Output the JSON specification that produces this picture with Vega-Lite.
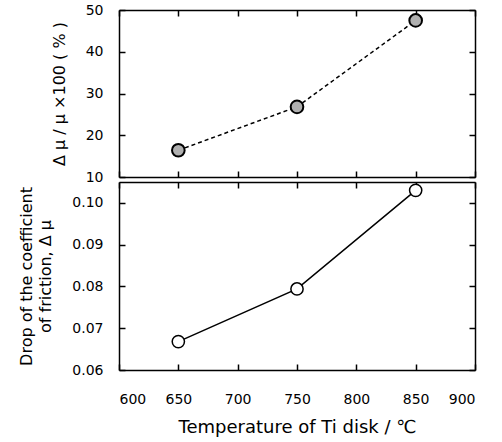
{
  "$schema": "https://vega.github.io/schema/vega-lite/v6.json",
  "padding": {"left": 18, "top": 3, "right": 10, "bottom": 5},
  "background": "white",
  "bounds": "flush",
  "config": {
    "font": "DejaVu Sans",
    "view": {"stroke": null},
    "axis": {
      "domain": true, "domainColor": "black", "domainWidth": 1.5,
      "ticks": true, "tickColor": "black", "tickWidth": 1.5, "tickSize": -6,
      "grid": false,
      "labelFont": "DejaVu Sans", "labelFontSize": 14, "labelColor": "black",
      "titleFont": "DejaVu Sans", "titleColor": "black", "titleFontWeight": "normal"
    }
  },
  "datasets": {
    "pts": [
      {"T": 650, "pct": 16.4, "dmu": 0.0668},
      {"T": 750, "pct": 26.8, "dmu": 0.0794},
      {"T": 850, "pct": 47.5, "dmu": 0.1030}
    ]
  },
  "data": {"name": "pts"},
  "vconcat": [
    {
      "width": 356, "height": 167,
      "layer": [
        {
          "mark": {"type": "line", "color": "black", "strokeWidth": 1.5, "strokeDash": [4, 3]},
          "encoding": {
            "x": {"field": "T", "type": "quantitative", "scale": {"domain": [600, 900], "nice": false},
                  "axis": {"orient": "bottom", "labels": false, "title": null, "minExtent": 0, "maxExtent": 0, "values": [600, 650, 700, 750, 800, 850, 900]}},
            "y": {"field": "pct", "type": "quantitative", "scale": {"domain": [10, 50], "nice": false, "zero": false},
                  "axis": {"orient": "left", "values": [10, 20, 30, 40, 50], "labelPadding": 22, "title": "Δ μ / μ ×100 ( % )", "titleFontSize": 16, "titlePadding": 18}}
          }
        },
        {
          "mark": {"type": "point", "filled": true, "fill": "#b0b0b0", "stroke": "black", "strokeWidth": 2, "size": 160, "opacity": 1},
          "encoding": {
            "x": {"field": "T", "type": "quantitative", "scale": {"domain": [600, 900], "nice": false},
                  "axis": {"orient": "top", "labels": false, "title": null, "minExtent": 0, "maxExtent": 0, "values": [600, 650, 700, 750, 800, 850, 900]}},
            "y": {"field": "pct", "type": "quantitative", "scale": {"domain": [10, 50], "nice": false, "zero": false},
                  "axis": {"orient": "right", "labels": false, "title": null, "minExtent": 0, "maxExtent": 0, "values": [10, 20, 30, 40, 50]}}
          }
        }
      ],
      "resolve": {"axis": {"x": "independent", "y": "independent"}}
    },
    {
      "width": 356, "height": 188,
      "layer": [
        {
          "mark": {"type": "line", "color": "black", "strokeWidth": 1.5},
          "encoding": {
            "x": {"field": "T", "type": "quantitative", "scale": {"domain": [600, 900], "nice": false},
                  "axis": {"orient": "bottom", "values": [600, 650, 700, 750, 800, 850, 900], "labelPadding": 28,
                           "title": "Temperature of Ti disk / ℃", "titleFontSize": 18, "titlePadding": 12}},
            "y": {"field": "dmu", "type": "quantitative", "scale": {"domain": [0.06, 0.105], "nice": false, "zero": false},
                  "axis": {"orient": "left", "values": [0.06, 0.07, 0.08, 0.09, 0.10], "format": ".2f", "labelPadding": 22,
                           "title": ["Drop of the coefficient", "of friction, Δ μ"], "titleFontSize": 16, "titleLineHeight": 19, "titlePadding": 18}}
          }
        },
        {
          "mark": {"type": "point", "filled": true, "fill": "white", "stroke": "black", "strokeWidth": 1.5, "size": 150, "opacity": 1},
          "encoding": {
            "x": {"field": "T", "type": "quantitative", "scale": {"domain": [600, 900], "nice": false},
                  "axis": {"orient": "top", "labels": false, "title": null, "minExtent": 0, "maxExtent": 0, "values": [600, 650, 700, 750, 800, 850, 900]}},
            "y": {"field": "dmu", "type": "quantitative", "scale": {"domain": [0.06, 0.105], "nice": false, "zero": false},
                  "axis": {"orient": "right", "labels": false, "title": null, "minExtent": 0, "maxExtent": 0, "values": [0.06, 0.07, 0.08, 0.09, 0.10]}}
          }
        }
      ],
      "resolve": {"axis": {"x": "independent", "y": "independent"}}
    }
  ],
  "spacing": 5
}
